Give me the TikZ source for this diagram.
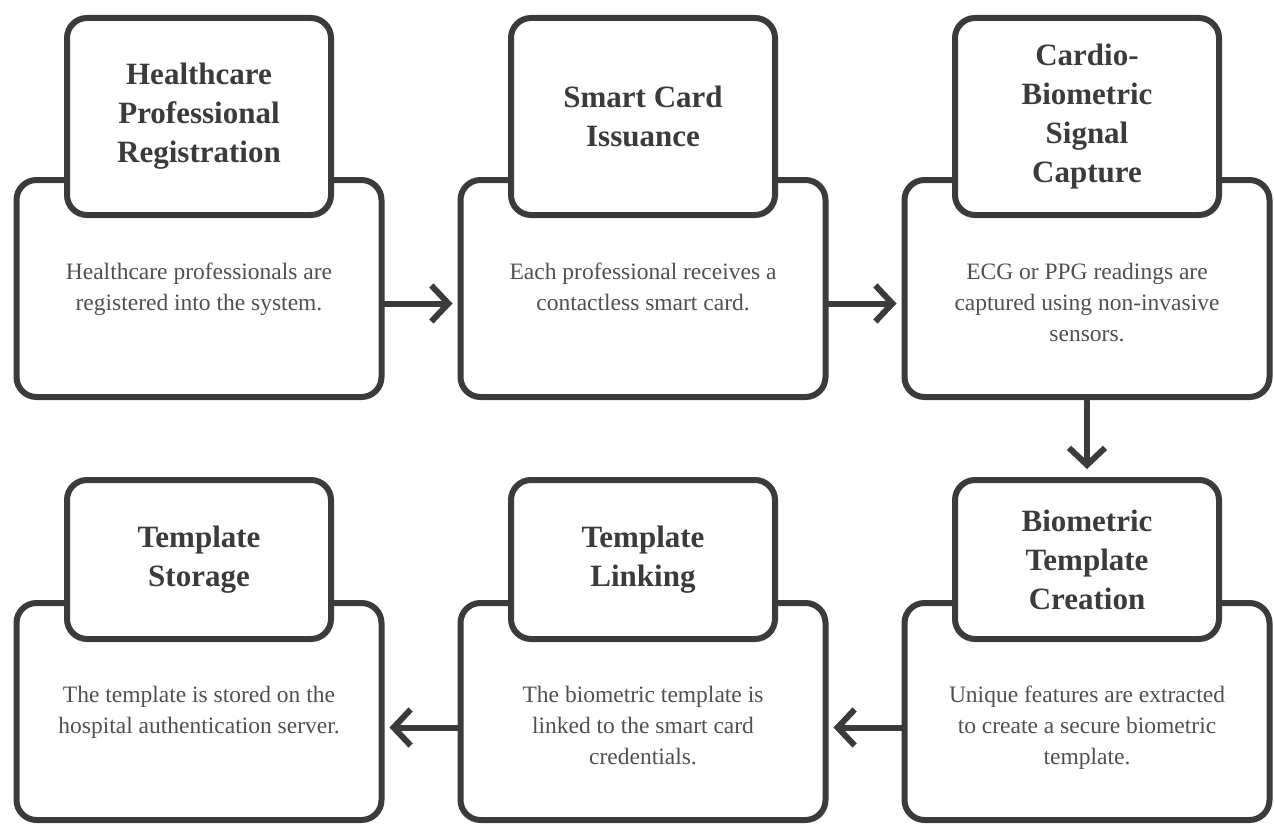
\documentclass[tikz,border=0pt]{standalone}
\usepackage{fontspec}
\setmainfont{Liberation Serif}
\usepackage{tikz}
\usetikzlibrary{arrows.meta, positioning}
\definecolor{ink}{HTML}{3B3B3B}
\definecolor{descink}{HTML}{505050}

\begin{document}
\begin{tikzpicture}[x=1pt, y=1pt, >={Straight Barb[length=17pt, width=36pt]}, node distance=73pt,
  bodybox/.style={draw=ink, line width=6pt, rounded corners=20pt, fill=white, minimum width=365pt, minimum height=217pt},
  titlebox/.style={draw=ink, line width=6pt, rounded corners=20pt, fill=white, minimum width=264pt, anchor=south,
    align=center, inner sep=0pt, text=ink, font=\fontsize{31}{39}\selectfont\bfseries},
  desc/.style={align=center, inner sep=0pt, text=descink, font=\fontsize{23.5}{31}\selectfont},
  flow/.style={->, draw=ink, line width=6pt, line cap=round}]
  \useasboundingbox (0,0) rectangle (1274,-824);

  % lower boxes
  \node[bodybox] (body1) at (199,-288.5) {};
  \node[bodybox, right=of body1] (body2) {};
  \node[bodybox, right=of body2] (body3) {};
  \node[bodybox, below=200pt of body3] (body4) {};
  \node[bodybox, left=of body4] (body5) {};
  \node[bodybox, left=of body5] (body6) {};

  % title boxes
  \node[titlebox, minimum height=197pt] (title1) at ([yshift=-41pt]body1.north) {Healthcare\\Professional\\Registration};
  \node[titlebox, minimum height=197pt] (title2) at ([yshift=-41pt]body2.north) {Smart Card\\Issuance};
  \node[titlebox, minimum height=197pt] (title3) at ([yshift=-41pt]body3.north) {Cardio-\\Biometric\\Signal\\Capture};
  \node[titlebox, minimum height=159pt] (title4) at ([yshift=-42pt]body4.north) {Biometric\\Template\\Creation};
  \node[titlebox, minimum height=159pt] (title5) at ([yshift=-42pt]body5.north) {Template\\Linking};
  \node[titlebox, minimum height=159pt] (title6) at ([yshift=-42pt]body6.north) {Template\\Storage};

  % descriptions
  \node[desc, below=86pt of body1.north] (desc1) {Healthcare professionals are\\registered into the system.};
  \node[desc, below=86pt of body2.north] (desc2) {Each professional receives a\\contactless smart card.};
  \node[desc, below=86pt of body3.north] (desc3) {ECG or PPG readings are\\captured using non-invasive\\sensors.};
  \node[desc, below=86pt of body4.north] (desc4) {Unique features are extracted\\to create a secure biometric\\template.};
  \node[desc, below=86pt of body5.north] (desc5) {The biometric template is\\linked to the smart card\\credentials.};
  \node[desc, below=86pt of body6.north] (desc6) {The template is stored on the\\hospital authentication server.};

  \draw[flow, shorten >=5pt] ([yshift=-15pt]body1.east) -- ([yshift=-15pt]body2.west);
  \draw[flow, shorten >=5pt] ([yshift=-15pt]body2.east) -- ([yshift=-15pt]body3.west);
  \draw[flow, shorten >=8pt] (body3.south) -- (title4.north);
  \draw[flow, shorten >=5pt] ([yshift=-16pt]body4.west) -- ([yshift=-16pt]body5.east);
  \draw[flow, shorten >=5pt] ([yshift=-16pt]body5.west) -- ([yshift=-16pt]body6.east);
\end{tikzpicture}
\end{document}
